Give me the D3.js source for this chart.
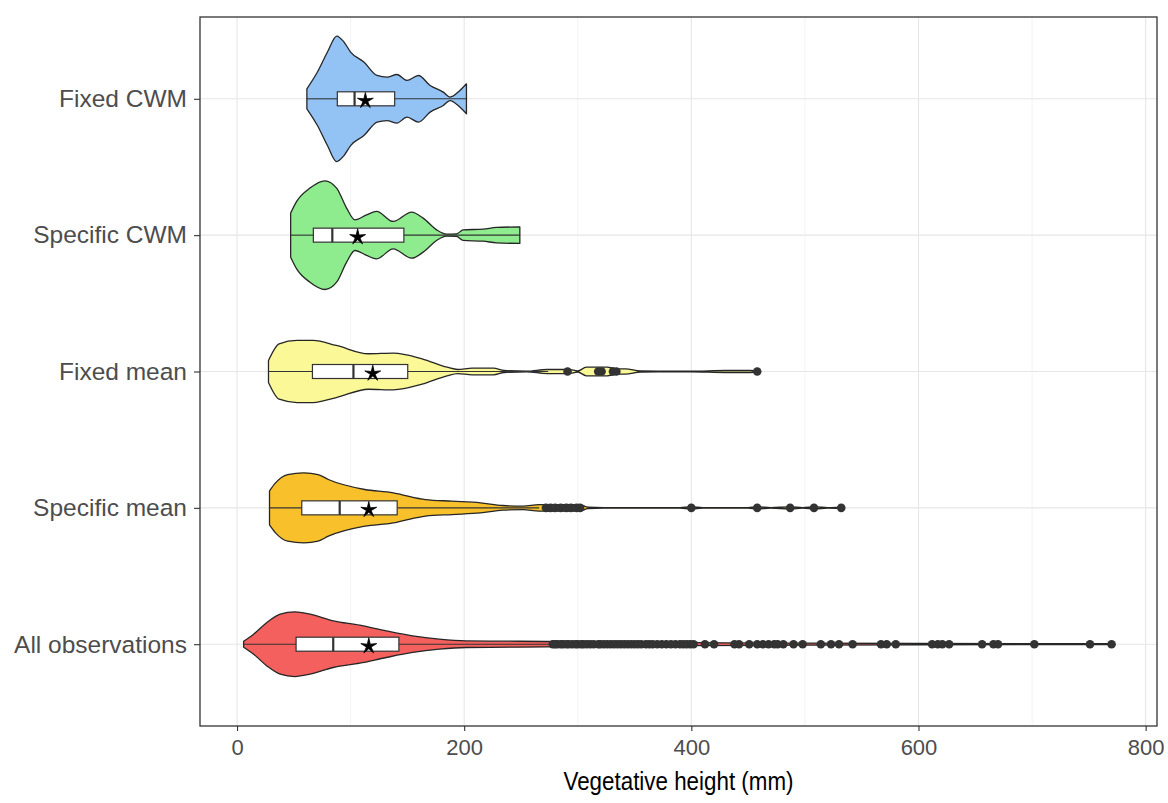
<!DOCTYPE html>
<html>
<head>
<meta charset="utf-8">
<script src="https://cdn.jsdelivr.net/npm/d3@7"></script>
<style>
  html, body { margin: 0; padding: 0; background: #fff; }
  svg { display: block; }
</style>
</head>
<body>
<svg id="chart" width="1168" height="803"></svg>
<script>
// Groups, top to bottom
const categories = ["Fixed CWM", "Specific CWM", "Fixed mean", "Specific mean", "All observations"];
const fillColors = ["#93C3F5", "#8EEB8E", "#FBF898", "#F8C12C", "#F4605D"];

// Kernel density profiles: [height (mm), relative density]
const densityFixedCWM = [
  [61.5, 0.163], [70.8, 0.436], [79.6, 0.762], [87.8, 1.023], [94.2, 0.925],
  [100, 0.762], [111.7, 0.599], [123.3, 0.38], [132, 0.354], [140.8, 0.396],
  [149.6, 0.299], [159.8, 0.38], [170, 0.217], [181.6, 0.109], [187.5, 0.028],
  [196.2, 0.135], [202, 0.245]
];
const densitySpecificCWM = [
  [47.2, 0.359], [52.5, 0.55], [64.2, 0.767], [77.4, 0.886], [87.7, 0.767],
  [96.5, 0.44], [103.8, 0.25], [114.1, 0.331], [122.9, 0.387], [137.5, 0.223],
  [153.7, 0.375], [163.9, 0.277], [175.7, 0.086], [184.5, 0.016], [193.3, 0.021],
  [199.1, 0.086], [216.7, 0.098], [228.4, 0.126], [249, 0.135]
];
const densityFixedMean = [
  [27.7, 0.179], [37.1, 0.452], [52.8, 0.506], [67, 0.506], [87.4, 0.424],
  [115.7, 0.289], [137.7, 0.299], [162.9, 0.207], [184.9, 0.07], [194.3, 0.033],
  [206.9, 0.054], [225.8, 0.054], [235.2, 0.016], [255, 0.005], [273, 0.033],
  [292, 0.033], [300, 0.008], [307.5, 0.07], [326, 0.07], [334, 0.044],
  [342, 0.044], [355, 0.008], [400, 0.005], [430, 0.016], [452, 0.016], [458.5, 0.008]
];
const densitySpecificMean = [
  [28.6, 0.277], [33.9, 0.408], [44.6, 0.543], [58.9, 0.571], [71.4, 0.543],
  [80.4, 0.462], [112.5, 0.299], [137.5, 0.245], [144.6, 0.217], [166, 0.135],
  [189.3, 0.109], [214.3, 0.082], [234, 0.038], [251.8, 0.028], [266, 0.054],
  [301.8, 0.054], [309, 0.011], [323, 0.005], [390, 0.005], [400, 0.016],
  [410, 0.005], [450, 0.005], [458, 0.016], [470, 0.005], [487, 0.016],
  [498, 0.005], [509, 0.016], [520, 0.005], [532, 0.013]
];
const densityAllObs = [
  [5.8, 0.049], [14.6, 0.163], [26.3, 0.354], [38, 0.489], [51, 0.527],
  [64.2, 0.489], [84.7, 0.38], [108, 0.31], [131.4, 0.217], [154.7, 0.135],
  [178, 0.082], [201.5, 0.054], [240, 0.049], [272, 0.044], [320, 0.033],
  [400, 0.024], [500, 0.016], [600, 0.011], [700, 0.008], [772, 0.007]
];
const densities = [densityFixedCWM, densitySpecificCWM, densityFixedMean, densitySpecificMean, densityAllObs];

// Box-plot summaries per group (mm)
const whiskerLow  = [61.5, 47.2, 27.7, 28.6, 5.8];
const q1          = [88.3, 67.2, 66.4, 57, 52];
const medians     = [103.5, 83.9, 102.5, 90.4, 84.7];
const q3          = [138.8, 146.9, 150.3, 141, 142.5];
const whiskerHigh = [202, 249, 274, 266, 276];
const means       = [113, 106.2, 119.5, 116, 116];

// Outlying observations per group (mm)
const outliersFixedCWM = [];
const outliersSpecificCWM = [];
const outliersFixedMean = [291, 318, 321, 331, 334, 458];
const outliersSpecificMean = [272, 276, 280, 285, 290, 294, 299, 302, 400, 458, 487, 508, 532];
const outliersAllObs = [
  278, 280, 282, 285, 287, 290, 292, 295, 298, 300, 303, 305, 308, 311, 314, 318,
  320, 323, 326, 329, 332, 335, 338, 341, 344, 347, 350, 353, 356, 360, 363, 366,
  370, 374, 378, 382, 386, 390, 393, 396, 399, 402, 412, 420, 438, 442, 451, 458,
  463, 468, 473, 476, 481, 490, 498, 514, 523, 530, 542, 567, 572, 580, 612, 617,
  621, 627, 656, 666, 670, 702, 751, 770
];
const outliers = [outliersFixedCWM, outliersSpecificCWM, outliersFixedMean, outliersSpecificMean, outliersAllObs];

const xTicks = [0, 200, 400, 600, 800];
const xMinorTicks = [100, 300, 500, 700];
const xTitle = "Vegetative height (mm)";

// ---- layout ----
const panel = { left: 200, right: 1157, top: 17, bottom: 726 };
const fontFamily = "'Liberation Sans', Arial, sans-serif";
const svg = d3.select("#chart");

const x = d3.scaleLinear().domain([-32.6, 810]).range([panel.left, panel.right]);
const y = d3.scalePoint().domain(categories).range([panel.top, panel.bottom]).padding(0.6);
const step = y.step();
const halfWidth = d3.scaleLinear().domain([0, 1]).range([0, step * 0.45]);
const boxHalf = 7;

const g = svg.append("g");

// panel background + grid
g.append("rect")
  .attr("x", panel.left).attr("y", panel.top)
  .attr("width", panel.right - panel.left).attr("height", panel.bottom - panel.top)
  .attr("fill", "#fff");

g.selectAll("line.minor").data(xMinorTicks).enter().append("line")
  .attr("x1", d => x(d)).attr("x2", d => x(d))
  .attr("y1", panel.top).attr("y2", panel.bottom)
  .attr("stroke", "#EBEBEB").attr("stroke-width", 0.6);

g.selectAll("line.major").data(xTicks).enter().append("line")
  .attr("x1", d => x(d)).attr("x2", d => x(d))
  .attr("y1", panel.top).attr("y2", panel.bottom)
  .attr("stroke", "#E6E6E6").attr("stroke-width", 1.1);

g.selectAll("line.ygrid").data(categories).enter().append("line")
  .attr("x1", panel.left).attr("x2", panel.right)
  .attr("y1", d => y(d)).attr("y2", d => y(d))
  .attr("stroke", "#E6E6E6").attr("stroke-width", 1.1);

// violins
categories.forEach((cat, i) => {
  const cy = y(cat);
  const area = d3.area()
    .curve(d3.curveMonotoneX)
    .x(d => x(d[0]))
    .y0(d => cy - halfWidth(d[1]))
    .y1(d => cy + halfWidth(d[1]));
  g.append("path")
    .datum(densities[i])
    .attr("d", area)
    .attr("fill", fillColors[i])
    .attr("stroke", "#262626")
    .attr("stroke-width", 1.3)
    .attr("stroke-linejoin", "round");
});

// box plots with outliers
categories.forEach((cat, i) => {
  const cy = y(cat);
  const bg = g.append("g");
  bg.append("line")
    .attr("x1", x(whiskerLow[i])).attr("x2", x(q1[i]))
    .attr("y1", cy).attr("y2", cy)
    .attr("stroke", "#333").attr("stroke-width", 1.1);
  bg.append("line")
    .attr("x1", x(q3[i])).attr("x2", x(whiskerHigh[i]))
    .attr("y1", cy).attr("y2", cy)
    .attr("stroke", "#333").attr("stroke-width", 1.1);
  bg.append("rect")
    .attr("x", x(q1[i])).attr("y", cy - boxHalf)
    .attr("width", x(q3[i]) - x(q1[i])).attr("height", boxHalf * 2)
    .attr("fill", "#fff").attr("stroke", "#333").attr("stroke-width", 1.2);
  bg.append("line")
    .attr("x1", x(medians[i])).attr("x2", x(medians[i]))
    .attr("y1", cy - boxHalf).attr("y2", cy + boxHalf)
    .attr("stroke", "#333").attr("stroke-width", 2.2);

  bg.selectAll("circle").data(outliers[i]).enter().append("circle")
    .attr("cx", d => x(d)).attr("cy", cy).attr("r", 4.3)
    .attr("fill", "#333");
});

// mean markers (five-pointed star)
const starSymbol = {
  draw(context, size) {
    const R = Math.sqrt(size), r = R * 0.3;
    for (let k = 0; k < 10; k++) {
      const a = -Math.PI / 2 + k * Math.PI / 5;
      const rad = k % 2 === 0 ? R : r;
      const px = Math.cos(a) * rad, py = Math.sin(a) * rad;
      if (k === 0) context.moveTo(px, py); else context.lineTo(px, py);
    }
    context.closePath();
  }
};
g.selectAll("path.mean").data(categories).enter().append("path")
  .attr("d", d3.symbol().type(starSymbol).size(70))
  .attr("transform", (d, i) => `translate(${x(means[i])},${y(d) + 2})`)
  .attr("fill", "#000")
  .attr("stroke", "#000").attr("stroke-width", 0.8).attr("stroke-linejoin", "round");

// panel border
g.append("rect")
  .attr("x", panel.left).attr("y", panel.top)
  .attr("width", panel.right - panel.left).attr("height", panel.bottom - panel.top)
  .attr("fill", "none").attr("stroke", "#333").attr("stroke-width", 1.3);

// axes
const xAxis = d3.axisBottom(x).tickValues(xTicks).tickSize(5).tickPadding(8);
const xg = svg.append("g").attr("transform", `translate(0,${panel.bottom})`).call(xAxis);
xg.select(".domain").remove();
xg.selectAll(".tick line").attr("stroke", "#333").attr("stroke-width", 1.1);
xg.selectAll(".tick text")
  .attr("fill", "#4D4D4D").style("font-family", fontFamily)
  .style("font-size", "22px");

const yAxis = d3.axisLeft(y).tickSize(6).tickPadding(7);
const yg = svg.append("g").attr("transform", `translate(${panel.left},0)`).call(yAxis);
yg.select(".domain").remove();
yg.selectAll(".tick line").attr("stroke", "#333").attr("stroke-width", 1.1);
yg.selectAll(".tick text")
  .attr("fill", "#4D4D4D").style("font-family", fontFamily)
  .style("font-size", "24.5px");

svg.append("text")
  .attr("x", (panel.left + panel.right) / 2)
  .attr("y", 790)
  .attr("text-anchor", "middle")
  .style("font-family", fontFamily)
  .style("font-size", "25px")
  .attr("textLength", 230)
  .attr("lengthAdjust", "spacingAndGlyphs")
  .attr("fill", "#000")
  .text(xTitle);
</script>
</body>
</html>
